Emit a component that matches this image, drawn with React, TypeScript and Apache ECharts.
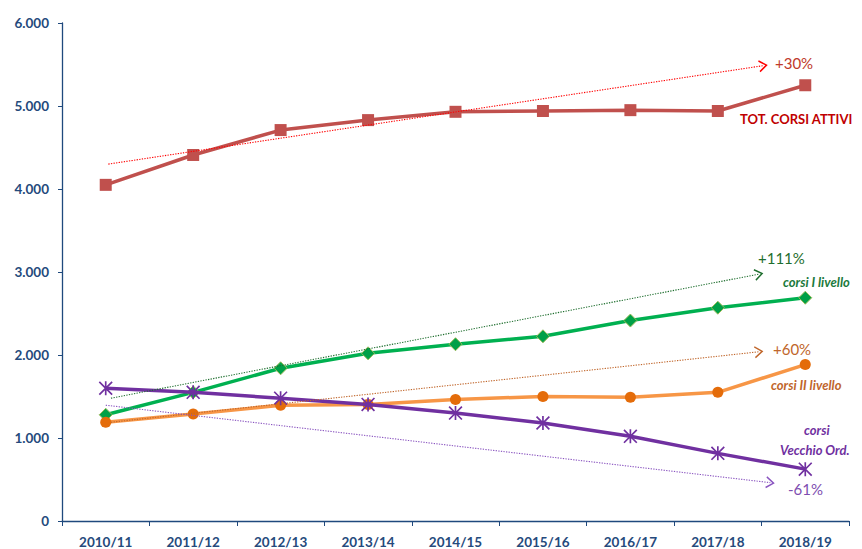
import React, { useEffect, useRef } from "react";
import * as echarts from "echarts";

const categories = ["2010/11", "2011/12", "2012/13", "2013/14", "2014/15", "2015/16", "2016/17", "2017/18", "2018/19"];
const totCorsi = [4050, 4410, 4710, 4830, 4930, 4940, 4950, 4940, 5250];
const corsiI = [1280, 1550, 1840, 2020, 2130, 2225, 2415, 2570, 2690];
const corsiII = [1190, 1290, 1395, 1405, 1465, 1500, 1490, 1550, 1885];
const vecchioOrd = [1600, 1550, 1480, 1405, 1300, 1180, 1020, 815, 625];
const yTicks = [0, 1000, 2000, 3000, 4000, 5000, 6000];

// trend arrows: [startIndex, startValue, endIndex, endValue]
const trendTot = [0.03, 4300, 7.52, 5486];
const trendI = [0.06, 1480, 7.47, 2974];
const trendII = [0.06, 1190, 7.47, 2039];
const trendVO = [0.0, 1395, 7.6, 462];

const FONT = "Lato, 'Open Sans', sans-serif";
const CHEVRON = "path://M5,0 L10,8.6 L8.9,9.4 L5,2.6 L1.1,9.4 L0,8.6 Z";
const ASTERISK =
  "path://M8.8,0 L11.2,0 L11.2,20 L8.8,20 Z M0,1.7 L1.7,0 L20,18.3 L18.3,20 Z M18.3,0 L20,1.7 L1.7,20 L0,18.3 Z";

function trendSeries(t: number[], color: string) {
  return {
    type: "line",
    xAxisIndex: 1,
    data: [],
    silent: true,
    z: 1,
    markLine: {
      silent: true,
      animation: false,
      symbol: ["none", CHEVRON],
      symbolSize: [12, 9],
      label: { show: false },
      lineStyle: { color, type: [1.3, 1.3], width: 1.1 },
      data: [[{ coord: [t[0], t[1]] }, { coord: [t[2], t[3]] }]],
    },
  };
}

function fmt(v: number) {
  return v === 0 ? "0" : (v / 1000).toFixed(3);
}

export default function App() {
  const ref = useRef<HTMLDivElement>(null);
  useEffect(() => {
    if (!ref.current) return;
    const chart = echarts.init(ref.current, undefined, { renderer: "svg" });
    const axisColor = "#1F497D";
    const labelColor = "#254A7C";
    chart.setOption({
      animation: false,
      grid: { left: 62, right: 13, top: 23, bottom: 27, containLabel: false },
      xAxis: [
        {
          type: "category",
          data: categories,
          boundaryGap: true,
          axisLine: { onZero: false, lineStyle: { color: axisColor, width: 1.3 } },
          axisTick: { show: true, length: 5, lineStyle: { color: axisColor } },
          axisLabel: { color: labelColor, fontFamily: FONT, fontWeight: "bold", fontSize: 13.5, margin: 14 },
          splitLine: { show: false },
        },
        {
          type: "value",
          min: -0.5,
          max: 8.5,
          show: false,
        },
      ],
      yAxis: {
        type: "value",
        min: 0,
        max: 6000,
        interval: 1000,
        axisLine: { show: true, onZero: false, lineStyle: { color: axisColor, width: 1.3 } },
        axisTick: { show: true, length: 4, lineStyle: { color: axisColor } },
        axisLabel: {
          color: labelColor,
          fontFamily: FONT,
          fontWeight: "bold",
          fontSize: 13.5,
          margin: 13,
          formatter: (v: number) => (yTicks.includes(v) ? fmt(v) : ""),
        },
        splitLine: { show: false },
      },
      series: [
        trendSeries(trendTot, "#FF0000"),
        trendSeries(trendI, "#1E6E2E"),
        trendSeries(trendII, "#C0662B"),
        trendSeries(trendVO, "#8A55C0"),
        {
          type: "line",
          data: totCorsi,
          symbol: "rect",
          symbolSize: 12,
          lineStyle: { color: "#C0504D", width: 3.5 },
          itemStyle: { color: "#C0504D" },
          z: 3,
        },
        {
          type: "line",
          data: corsiI,
          symbol: "diamond",
          symbolSize: 13,
          lineStyle: { color: "#00B050", width: 3.5 },
          itemStyle: { color: "#00A047", borderColor: "#9BBB59", borderWidth: 1 },
          z: 3,
        },
        {
          type: "line",
          data: corsiII,
          symbol: "circle",
          symbolSize: 11,
          lineStyle: { color: "#F79646", width: 3.5 },
          itemStyle: { color: "#E46C0A" },
          z: 3,
        },
        {
          type: "line",
          data: vecchioOrd,
          symbol: ASTERISK,
          symbolSize: 14,
          lineStyle: { color: "#7030A0", width: 3.5 },
          itemStyle: { color: "#7030A0" },
          z: 4,
        },
      ],
      graphic: [
        { type: "text", left: 775, top: 55, style: { text: "+30%", fill: "#C0392B", font: `15px ${FONT}` } },
        { type: "text", left: 740, top: 112, style: { text: "TOT. CORSI ATTIVI", fill: "#C00000", font: `bold 13px ${FONT}` } },
        { type: "text", left: 758, top: 250, style: { text: "+111%", fill: "#1E6E2E", font: `15px ${FONT}` } },
        { type: "text", left: 783, top: 275, style: { text: "corsi I livello", fill: "#1B7A3C", font: `italic bold 13px ${FONT}` } },
        { type: "text", left: 773, top: 341, style: { text: "+60%", fill: "#C0662B", font: `15px ${FONT}` } },
        { type: "text", left: 771, top: 378, style: { text: "corsi II livello", fill: "#C0662B", font: `italic bold 13px ${FONT}` } },
        { type: "text", left: 804, top: 423, style: { text: "corsi", fill: "#7030A0", font: `italic bold 13px ${FONT}` } },
        { type: "text", left: 780, top: 443, style: { text: "Vecchio Ord.", fill: "#7030A0", font: `italic bold 13px ${FONT}` } },
        { type: "text", left: 788, top: 481, style: { text: "-61%", fill: "#7E4DB0", font: `15px ${FONT}` } },
      ],
    });
    return () => chart.dispose();
  }, []);
  return <div ref={ref} style={{ position: "absolute", left: 0, top: 0, width: 862, height: 549 }} />;
}
